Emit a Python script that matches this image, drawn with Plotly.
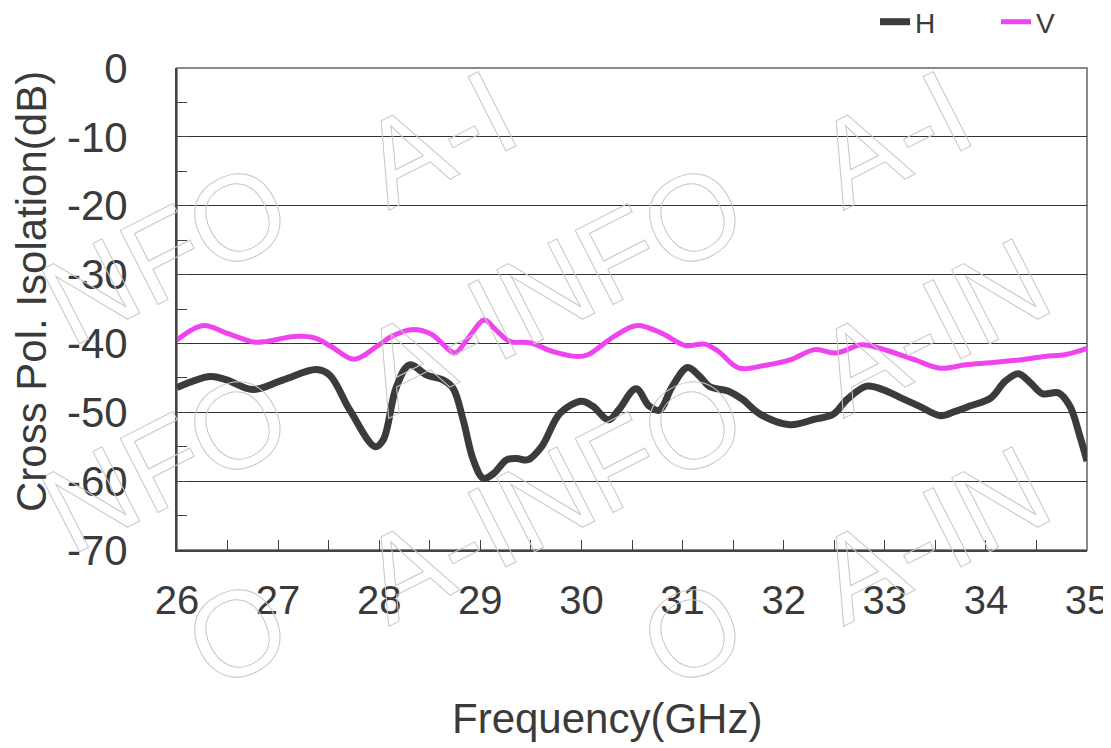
import math
import plotly.graph_objects as go

# ---- data (GHz, dB) ----
FREQ_H = [26.00, 26.33, 26.49, 26.75, 27.05, 27.38, 27.51, 27.71, 27.96, 28.04,
          28.17, 28.30, 28.47, 28.63, 28.73, 28.83, 28.93, 29.03, 29.13, 29.26,
          29.36, 29.47, 29.61, 29.79, 30.00, 30.11, 30.27, 30.37, 30.54, 30.67,
          30.77, 30.90, 31.05, 31.17, 31.27, 31.45, 31.59, 31.77, 32.06, 32.31,
          32.49, 32.63, 32.82, 32.98, 33.16, 33.34, 33.55, 33.69, 33.84, 34.05,
          34.19, 34.32, 34.44, 34.56, 34.72, 34.83, 34.93, 35.00]
ISO_H = [-46.4, -44.8, -45.3, -46.7, -45.3, -43.8, -44.6, -49.7, -55.0, -54.0,
         -46.3, -43.1, -44.6, -45.3, -46.5, -51.1, -56.9, -59.6, -58.9, -56.9,
         -56.7, -56.9, -54.9, -50.1, -48.4, -49.1, -51.1, -49.6, -46.6, -49.1,
         -49.7, -46.2, -43.5, -44.8, -46.3, -46.9, -48.1, -50.3, -51.8, -51.0,
         -50.3, -48.1, -46.2, -46.7, -47.9, -49.1, -50.5, -49.9, -49.1, -47.9,
         -45.5, -44.4, -45.7, -47.3, -47.2, -49.1, -53.5, -57.1]

FREQ_V = [26.00, 26.26, 26.49, 26.76, 26.89, 27.16, 27.36, 27.52, 27.75, 27.98,
          28.12, 28.32, 28.52, 28.65, 28.75, 28.89, 29.04, 29.15, 29.29, 29.49,
          29.72, 29.96, 30.07, 30.32, 30.55, 30.79, 31.03, 31.22, 31.35, 31.56,
          31.81, 32.06, 32.31, 32.52, 32.77, 32.95, 33.30, 33.55, 33.80, 34.05,
          34.33, 34.58, 34.79, 35.00]
ISO_V = [-39.5, -37.4, -38.5, -39.8, -39.7, -39.0, -39.2, -40.4, -42.3, -40.4,
         -39.0, -38.0, -38.7, -40.4, -41.4, -39.0, -36.6, -38.0, -39.7, -39.9,
         -41.2, -41.9, -41.6, -39.0, -37.4, -38.5, -40.3, -40.1, -41.1, -43.6,
         -43.2, -42.4, -40.9, -41.4, -40.2, -40.7, -42.4, -43.6, -43.1, -42.8,
         -42.4, -41.9, -41.6, -40.7]

X_TICKS = list(range(26, 36))
Y_TICKS = list(range(0, -80, -10))

X_TITLE = "Frequency(GHz)"
Y_TITLE = "Cross Pol. Isolation(dB)"
WATERMARK = "A-INFO"

FONT = "Liberation Sans, Arial, sans-serif"
TEXT = "#3a3a3a"
AXIS = "#444444"

# the page body adds an 8px margin, so the figure is drawn 8px in from the corner
OFF = 8
W, H = 1111 - OFF, 748 - OFF
L, R, T, B = 177 - OFF, 24, 68 - OFF, 198
PW, PH = W - L - R, H - T - B


def px_to_paper(x, y):
    """Page pixel (reference coords) -> paper fraction."""
    return (x - 177) / PW, (550 - y) / PH


fig = go.Figure()
fig.add_trace(go.Scatter(
    x=FREQ_H, y=ISO_H, name="H", mode="lines",
    line=dict(color="#3b3b3b", width=7, shape="spline", smoothing=1.0),
))
fig.add_trace(go.Scatter(
    x=FREQ_V, y=ISO_V, name="V", mode="lines",
    line=dict(color="#f043f0", width=5, shape="spline", smoothing=1.0),
))

# light frame on top/right, axes proper drawn darker on left/bottom
fig.add_shape(type="rect", xref="paper", yref="paper", x0=0, y0=0, x1=1, y1=1,
              line=dict(color="#8a8a8a", width=2), layer="below")

# tiled outline watermark: one letter per annotation so letters that would
# fall off the page edge can simply be left out
WM_SIZE = 121
WM_ANGLE = 27
ADV = {"A": 0.667, "-": 0.333, "I": 0.278, "N": 0.722, "F": 0.611, "O": 0.778}
ca, sa = math.cos(math.radians(WM_ANGLE)), math.sin(math.radians(WM_ANGLE))
total = sum(ADV[c] for c in WATERMARK)
box_h = WM_SIZE * 1.16
for ax0 in (-50, 405, 860):
    for ay0 in (155, 363, 571, 779):
        # tile centre in reference pixels, derived from where its "A" sits
        tx = ax0 + (total / 2 - ADV["A"] / 2) * WM_SIZE * ca
        ty = ay0 - (total / 2 - ADV["A"] / 2) * WM_SIZE * sa
        cum = 0.0
        for ch in WATERMARK:
            w = ADV[ch]
            d = (cum + w / 2 - total / 2) * WM_SIZE
            cum += w
            lx, ly = tx + d * ca, ty - d * sa
            hx = (w * WM_SIZE / 2) * ca + (box_h / 2) * sa
            hy = (w * WM_SIZE / 2) * sa + (box_h / 2) * ca
            if lx - hx < OFF + 1 or lx + hx > 1110 or ly - hy < OFF + 1 or ly + hy > 747:
                continue
            px, py = px_to_paper(lx, ly)
            fig.add_annotation(
                xref="paper", yref="paper", x=px, y=py,
                xanchor="center", yanchor="middle", showarrow=False,
                textangle=-WM_ANGLE,
                text=f'<span style="fill:none;stroke:#c8c8c8;stroke-width:1px">{ch}</span>',
                font=dict(family=FONT, size=WM_SIZE, color="rgba(0,0,0,0)"),
            )

# axis titles (placed as in the reference, slightly off-centre)
tx_, ty_ = px_to_paper(607, 718)
fig.add_annotation(xref="paper", yref="paper", x=tx_, y=ty_, showarrow=False,
                   xanchor="center", yanchor="middle", text=X_TITLE,
                   font=dict(family=FONT, size=42, color=TEXT))
tx_, ty_ = px_to_paper(31, 292)
fig.add_annotation(xref="paper", yref="paper", x=tx_, y=ty_, showarrow=False,
                   xanchor="center", yanchor="middle", text=Y_TITLE, textangle=-90,
                   font=dict(family=FONT, size=42, color=TEXT))

fig.update_xaxes(
    range=[26, 35], tickvals=X_TICKS, ticktext=[str(v) for v in X_TICKS],
    ticks="inside", ticklen=10, tickwidth=1.2, tickcolor=AXIS,
    minor=dict(dtick=0.5, ticks="inside", ticklen=10, tickwidth=1.2, tickcolor=AXIS, showgrid=False),
    showline=True, linecolor=AXIS, linewidth=2, showgrid=False, zeroline=False,
    ticklabelstandoff=14,
    tickfont=dict(family=FONT, size=40, color=TEXT),
)
fig.update_yaxes(
    range=[-70, 0], tickvals=Y_TICKS, ticktext=[str(v) for v in Y_TICKS],
    ticks="inside", ticklen=10, tickwidth=1.2, tickcolor=AXIS,
    minor=dict(dtick=5, ticks="inside", ticklen=10, tickwidth=1.2, tickcolor=AXIS, showgrid=False),
    showline=True, linecolor=AXIS, linewidth=2, zeroline=False,
    showgrid=True, gridcolor="#333333", gridwidth=1.2,
    ticklabelstandoff=39,
    tickfont=dict(family=FONT, size=42, color=TEXT),
)

lx_, ly_ = px_to_paper(875, 22)
fig.update_layout(
    width=W, height=H,
    margin=dict(l=L, r=R, t=T, b=B, autoexpand=False),
    paper_bgcolor="white", plot_bgcolor="white",
    font=dict(family=FONT, color=TEXT),
    showlegend=True,
    legend=dict(
        orientation="h", x=lx_, xanchor="left", y=ly_, yanchor="middle",
        font=dict(family=FONT, size=28, color=TEXT),
        bgcolor="rgba(0,0,0,0)", itemwidth=30, entrywidth=76,
    ),
)

fig.write_html("out.html")
